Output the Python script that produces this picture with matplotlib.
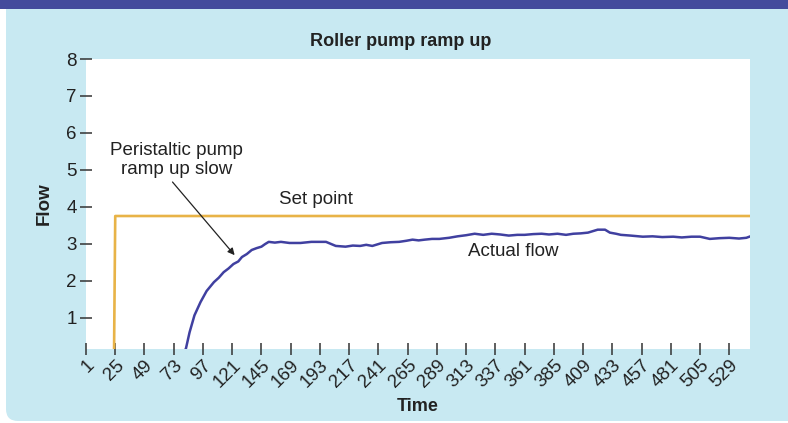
import matplotlib
matplotlib.use('Agg')
import matplotlib.pyplot as plt
from matplotlib.patches import FancyBboxPatch, Rectangle

# data
tick_vals = [1, 25, 49, 73, 97, 121, 145, 169, 193, 217, 241, 265, 289, 313,
             337, 361, 385, 409, 433, 457, 481, 505, 529]

setpoint_x = [1, 24, 25, 548]
setpoint_y = [0, 0, 3.75, 3.75]

flow_x = [1, 80, 83, 86, 90, 95, 100, 106, 110, 114, 118, 122, 126, 129, 133,
          137, 141, 145, 148, 151, 156, 161, 168, 177, 186, 198, 206, 214,
          220, 226, 231, 236, 244, 251, 258, 264, 269, 274, 279, 285, 291,
          299, 306, 313, 320, 327, 334, 341, 348, 355, 361, 368, 375, 381,
          388, 395, 401, 407, 413, 418, 421, 424, 427, 431, 436, 440, 448,
          458, 466, 474, 483, 490, 498, 505, 513, 521, 529, 537, 543, 548]
flow_y = [0, 0, 0.16, 0.60, 1.06, 1.42, 1.72, 1.96, 2.08, 2.23, 2.33, 2.45,
          2.52, 2.64, 2.72, 2.83, 2.88, 2.92, 2.99, 3.05, 3.03, 3.05, 3.02,
          3.02, 3.05, 3.05, 2.94, 2.92, 2.95, 2.94, 2.97, 2.94, 3.02, 3.04,
          3.05, 3.08, 3.11, 3.09, 3.11, 3.13, 3.13, 3.16, 3.20, 3.23, 3.27,
          3.24, 3.27, 3.25, 3.22, 3.24, 3.24, 3.26, 3.27, 3.25, 3.27, 3.24,
          3.27, 3.28, 3.30, 3.35, 3.38, 3.38, 3.38, 3.30, 3.27, 3.24, 3.22,
          3.19, 3.20, 3.18, 3.19, 3.17, 3.19, 3.19, 3.13, 3.15, 3.16, 3.14,
          3.16, 3.22]

LIGHT = '#c8e9f2'
BAND = '#444b9c'
YELLOW = '#e8b347'
BLUE = '#4040a0'
TXT = '#222222'

plt.rcParams['font.family'] = ['Liberation Sans', 'DejaVu Sans']

fig = plt.figure(figsize=(7.88, 4.23), dpi=100, facecolor='white')

# light blue panel with a rounded corner, dark band on top
fig.patches.append(FancyBboxPatch((0.06, 0.02), 8.0, 4.6,
                                  boxstyle='round,pad=0,rounding_size=0.12',
                                  transform=fig.dpi_scale_trans, facecolor=LIGHT,
                                  edgecolor='none', zorder=-2))
fig.patches.append(Rectangle((0, 4.14), 7.88, 0.1, transform=fig.dpi_scale_trans,
                             facecolor=BAND, edgecolor='none', zorder=-1))

ax = fig.add_axes([86/788, 1-349/423, 664/788, 290/423])
ax.set_zorder(2)
ax.set_facecolor('white')

ax.plot(flow_x, flow_y, color=BLUE, lw=1.8, zorder=3)
ax.plot(setpoint_x, setpoint_y, color=YELLOW, lw=1.9, zorder=2)

ax.set_xlim(1, 546)
ax.set_ylim(0.15, 8)

ax.set_xticks(tick_vals)
ax.set_xticklabels([str(v) for v in tick_vals], rotation=45, ha='right', va='top',
                   rotation_mode='anchor')
ax.set_yticks(range(1, 9))

for s in ax.spines.values():
    s.set_visible(False)

ax.tick_params(axis='both', direction='inout', length=9, width=1.1, color='#333333',
               labelsize=13.5, labelcolor=TXT)
ax.tick_params(axis='y', pad=2)
ax.tick_params(axis='x', pad=1)

ax.set_ylabel('Flow', fontsize=13.5, fontweight='bold', color=TXT, labelpad=10)
ax.set_xlabel('Time', fontsize=13, fontweight='bold', color=TXT, labelpad=5)
fig.text(401/788, 1-42/423, 'Roller pump ramp up', fontsize=13, fontweight='bold',
         color=TXT, ha='center', va='center')

# annotations
ax.text(75, 5.27, 'Peristaltic pump\nramp up slow', ha='center', va='center',
        fontsize=13.5, color=TXT, linespacing=1.1)
ax.annotate('', xy=(123, 2.69), xytext=(72, 4.67),
            arrowprops=dict(arrowstyle='-|>', color=TXT, lw=0.9, mutation_scale=10,
                            shrinkA=0, shrinkB=0))
ax.text(190, 4.2, 'Set point', fontsize=13.5, color=TXT, ha='center', va='center')
ax.text(352, 2.78, 'Actual flow', fontsize=13.5, color=TXT, ha='center', va='center')

fig.savefig('out.png', dpi=100, facecolor=fig.get_facecolor())
